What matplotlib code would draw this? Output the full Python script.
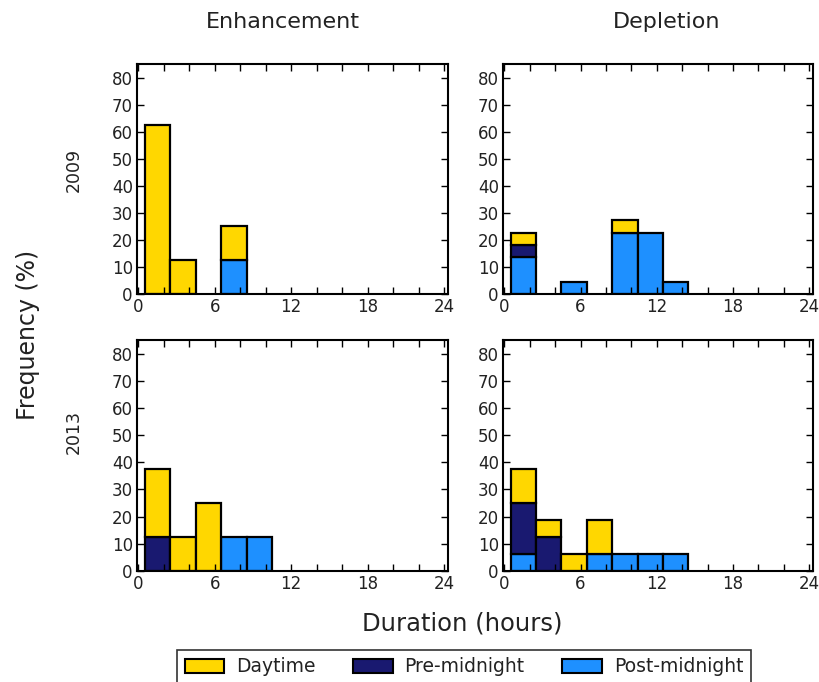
import matplotlib
matplotlib.use("Agg")
import matplotlib.pyplot as plt
from matplotlib.patches import Patch
import numpy as np

# bin edges (hours) and percentages per bin, per panel
bin_edges = [0.5, 2.5, 4.5, 6.5, 8.5, 10.5, 12.5, 14.5]
series_names = ["Post-midnight", "Pre-midnight", "Daytime"]  # stacking order bottom->top
colors = {"Daytime": "#FFD700", "Pre-midnight": "#191970", "Post-midnight": "#1E90FF"}

enh_2009_post = [0, 0, 0, 12.5, 0, 0, 0]
enh_2009_pre = [0, 0, 0, 0, 0, 0, 0]
enh_2009_day = [62.5, 12.5, 0, 12.5, 0, 0, 0]

dep_2009_post = [13.6, 0, 4.5, 0, 22.7, 22.7, 4.5]
dep_2009_pre = [4.5, 0, 0, 0, 0, 0, 0]
dep_2009_day = [4.5, 0, 0, 0, 4.5, 0, 0]

enh_2013_post = [0, 0, 0, 12.5, 12.5, 0, 0]
enh_2013_pre = [12.5, 0, 0, 0, 0, 0, 0]
enh_2013_day = [25.0, 12.5, 25.0, 0, 0, 0, 0]

dep_2013_post = [6.25, 0, 0, 6.25, 6.25, 6.25, 6.25]
dep_2013_pre = [18.75, 12.5, 0, 0, 0, 0, 0]
dep_2013_day = [12.5, 6.25, 6.25, 12.5, 0, 0, 0]

col_titles = ["Enhancement", "Depletion"]
row_titles = ["2009", "2013"]
legend_labels = ["Daytime", "Pre-midnight", "Post-midnight"]
x_ticks = [0, 6, 12, 18, 24]
y_ticks = [0, 10, 20, 30, 40, 50, 60, 70, 80]

panels = [
    [(enh_2009_post, enh_2009_pre, enh_2009_day), (dep_2009_post, dep_2009_pre, dep_2009_day)],
    [(enh_2013_post, enh_2013_pre, enh_2013_day), (dep_2013_post, dep_2013_pre, dep_2013_day)],
]

W, H = 819, 682
fig = plt.figure(figsize=(W / 100, H / 100), dpi=100)
txt = "#222222"

lefts = [137, 503]
rights = [448, 813]
tops = [64, 340]
bottoms = [294, 571]

edges = np.array(bin_edges)
widths = np.diff(edges)
for r in range(2):
    for c in range(2):
        ax = fig.add_axes([lefts[c] / W, 1 - bottoms[r] / H,
                           (rights[c] - lefts[c]) / W, (bottoms[r] - tops[r]) / H])
        bottom = np.zeros(len(widths))
        for name, vals in zip(series_names, panels[r][c]):
            vals = np.array(vals, dtype=float)
            mask = vals > 0
            ax.bar(edges[:-1][mask], vals[mask], width=widths[mask], bottom=bottom[mask],
                   align="edge", color=colors[name], edgecolor="black", linewidth=1.6)
            bottom += vals
        ax.set_xlim(-0.1, 24.3)
        ax.set_ylim(0, 85)
        ax.set_xticks(x_ticks)
        ax.set_xticks(np.arange(0, 25, 2), minor=True)
        ax.set_yticks(y_ticks)
        ax.tick_params(which="both", direction="in", top=True, right=True,
                       length=5, width=1, labelsize=12, labelcolor=txt, pad=3)
        for s in ax.spines.values():
            s.set_linewidth(1.5)

# column titles
fig.text(283 / W, 1 - 22 / H, col_titles[0], ha="center", va="center", fontsize=16, color=txt)
fig.text(667 / W, 1 - 22 / H, col_titles[1], ha="center", va="center", fontsize=16, color=txt)
# row titles
fig.text(74 / W, 1 - 170 / H, row_titles[0], ha="center", va="center", rotation=90, fontsize=12.5, color=txt)
fig.text(74 / W, 1 - 432 / H, row_titles[1], ha="center", va="center", rotation=90, fontsize=12.5, color=txt)
# axis labels
fig.text(28 / W, 1 - 335 / H, "Frequency (%)", ha="center", va="center", rotation=90, fontsize=17, color=txt)
fig.text(462 / W, 1 - 624 / H, "Duration (hours)", ha="center", va="center", fontsize=17.5, color=txt)

handles = [Patch(facecolor=colors[n], edgecolor="black", linewidth=1.5) for n in legend_labels]
leg = fig.legend(handles, legend_labels, ncol=3,
                 loc="upper center", bbox_to_anchor=(464 / W, 1 - 650 / H),
                 fontsize=13.5, frameon=True, fancybox=False, edgecolor="black",
                 handlelength=2.1, handleheight=0.8, handletextpad=0.64,
                 columnspacing=2.0, borderpad=0.4, borderaxespad=0)
leg.get_frame().set_linewidth(1.2)
for t in leg.get_texts():
    t.set_color(txt)

fig.savefig("out.png", dpi=100, facecolor="white")
